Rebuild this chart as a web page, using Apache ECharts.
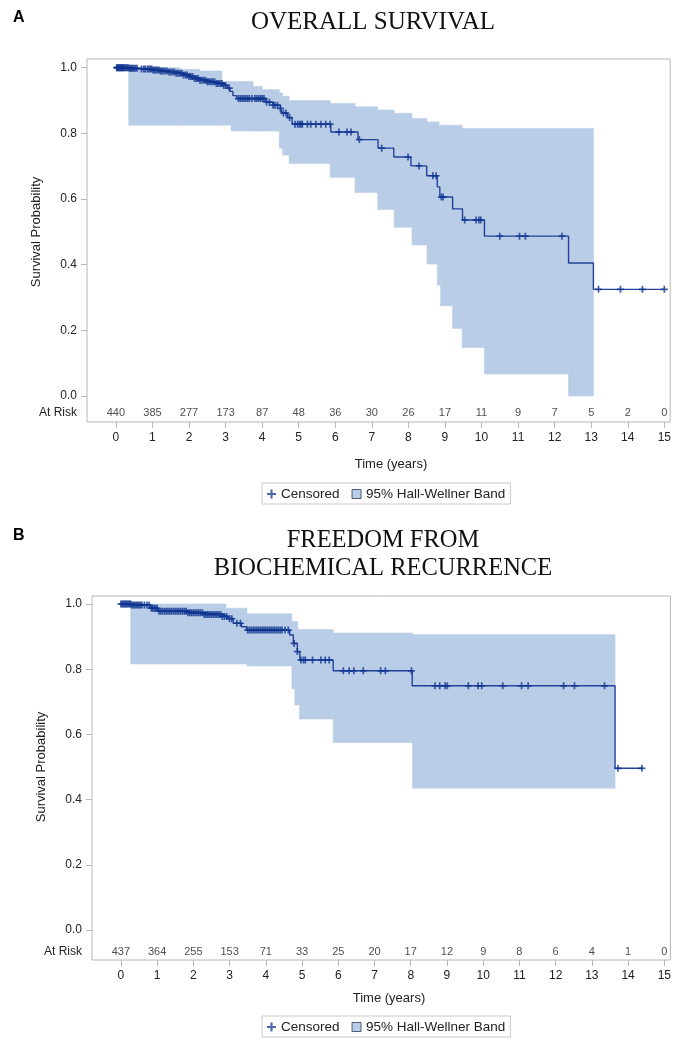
<!DOCTYPE html>
<html>
<head>
<meta charset="utf-8">
<script src="https://cdn.jsdelivr.net/npm/echarts@6/dist/echarts.min.js"></script>
<style>
  html, body { margin: 0; padding: 0; background: #fff; }
  #chart { width: 674px; height: 1040px; }
</style>
</head>
<body>
<div id="chart"></div>
<script>
// Kaplan-Meier curves, two panels, drawn with echarts
const xTicks = [0, 1, 2, 3, 4, 5, 6, 7, 8, 9, 10, 11, 12, 13, 14, 15];
const yTicks = [0, 0.2, 0.4, 0.6, 0.8, 1.0];

// panel A - overall survival
const atRiskA = [440, 385, 277, 173, 87, 48, 36, 30, 26, 17, 11, 9, 7, 5, 2, 0];
const timesA = [0, 0.35, 0.7, 1.0, 1.2, 1.45, 1.65, 1.85, 2.0, 2.15, 2.3, 2.5, 2.75, 2.95, 3.05, 3.12, 3.2, 3.3,
  4.1, 4.3, 4.5, 4.55, 4.7, 4.82, 5.88, 6.62, 7.17, 7.6, 8.07, 8.5, 8.79, 8.86, 9.21, 9.48, 10.08, 12.38, 13.06];
const survA = [1.0, 0.998, 0.996, 0.993, 0.99, 0.987, 0.983, 0.978, 0.973, 0.967, 0.962, 0.957, 0.952, 0.946, 0.938, 0.928, 0.915, 0.906,
  0.895, 0.886, 0.876, 0.862, 0.848, 0.828, 0.804, 0.781, 0.755, 0.728, 0.701, 0.671, 0.637, 0.606, 0.570, 0.536, 0.487, 0.405, 0.325];
const endA = 15.0;
const censorA = [0.02, 0.04, 0.06, 0.08, 0.1, 0.12, 0.14, 0.16, 0.18, 0.2, 0.22, 0.25, 0.28, 0.31, 0.34, 0.37, 0.4, 0.43, 0.46, 0.5, 0.54, 0.58,
  0.7, 0.76, 0.8, 0.86, 0.9, 0.94, 0.98, 1.02, 1.06, 1.1, 1.14, 1.18, 1.22, 1.26, 1.3, 1.35, 1.4, 1.45, 1.5, 1.55, 1.6, 1.65, 1.7,
  1.75, 1.8, 1.85, 1.9, 1.95, 2.0, 2.05, 2.1, 2.15, 2.2, 2.25, 2.3, 2.35, 2.4, 2.45, 2.5, 2.55, 2.6, 2.65, 2.7, 2.75, 2.8, 2.85,
  2.9, 2.95, 3.0, 3.1, 3.35, 3.4, 3.45, 3.5, 3.55, 3.6, 3.65, 3.72, 3.8, 3.85, 3.9, 3.95, 4.0, 4.05, 4.12, 4.2, 4.3, 4.35, 4.42,
  4.5, 4.58, 4.65, 4.75, 4.9, 4.97, 5.02, 5.06, 5.1, 5.24, 5.33, 5.47, 5.61, 5.74, 5.86, 6.1, 6.32, 6.43, 6.66, 7.27, 7.99, 8.29,
  8.67, 8.76, 8.9, 8.95, 9.54, 9.85, 9.93, 9.98, 10.5, 11.04, 11.2, 12.2, 13.2, 13.8, 14.4, 15.0];
const bandStartA = [0.35, 1.75, 2.3, 2.9, 3.15, 3.75, 4.0, 4.47, 4.56, 4.74, 5.86, 6.54, 7.16, 7.61, 8.1, 8.51, 8.79, 8.84, 8.88, 9.21, 9.47, 10.08, 12.38];
const bandLowA = [0.825, 0.825, 0.825, 0.825, 0.807, 0.807, 0.807, 0.755, 0.734, 0.708, 0.666, 0.620, 0.568, 0.514, 0.460, 0.402, 0.338, 0.338, 0.275, 0.206, 0.148, 0.067, 0.0];
const bandHighA = [1.0, 0.995, 0.99, 0.958, 0.958, 0.943, 0.933, 0.923, 0.913, 0.90, 0.891, 0.881, 0.871, 0.861, 0.845, 0.835, 0.835, 0.825, 0.825, 0.825, 0.815, 0.815, 0.815];
const bandEndA = 13.06;

// panel B - freedom from biochemical recurrence
const atRiskB = [437, 364, 255, 153, 71, 33, 25, 20, 17, 12, 9, 8, 6, 4, 1, 0];
const timesB = [0, 0.3, 0.82, 1.02, 1.84, 2.3, 2.8, 2.95, 3.1, 3.33, 3.47, 4.66, 4.76, 4.87, 4.94, 5.86, 8.04, 13.64];
const survB = [1.0, 0.997, 0.987, 0.978, 0.973, 0.968, 0.962, 0.955, 0.941, 0.930, 0.920, 0.905, 0.879, 0.854, 0.828, 0.795, 0.749, 0.496];
const endB = 14.42;
const censorB = [0.0, 0.03, 0.06, 0.09, 0.12, 0.15, 0.18, 0.21, 0.24, 0.27, 0.3, 0.34, 0.38, 0.42, 0.46, 0.5, 0.54, 0.58,
  0.65, 0.72, 0.78, 0.84, 0.88, 0.92, 0.96, 1.0, 1.05, 1.1, 1.15, 1.2, 1.25, 1.3, 1.35, 1.4, 1.45, 1.5, 1.55, 1.6, 1.65, 1.7,
  1.75, 1.8, 1.85, 1.9, 1.95, 2.0, 2.05, 2.1, 2.15, 2.2, 2.25, 2.3, 2.35, 2.4, 2.45, 2.5, 2.55, 2.6, 2.65, 2.7, 2.75, 2.8, 2.86,
  2.92, 3.0, 3.06, 3.2, 3.3, 3.5, 3.55, 3.6, 3.65, 3.7, 3.75, 3.8, 3.85, 3.9, 3.95, 4.0, 4.05, 4.1, 4.15, 4.2, 4.25, 4.3, 4.35,
  4.4, 4.45, 4.53, 4.62, 4.78, 4.87, 4.97, 5.04, 5.09, 5.29, 5.52, 5.64, 5.75, 6.14, 6.3, 6.43, 6.69, 7.17, 7.3, 8.02,
  8.67, 8.8, 8.95, 9.01, 9.59, 9.86, 9.96, 10.54, 11.06, 11.24, 12.22, 12.52, 13.35, 13.72, 14.38];
const bandStartB = [0.27, 2.9, 3.48, 4.72, 4.8, 4.88, 4.93, 5.86, 8.05];
const bandLowB = [0.816, 0.816, 0.81, 0.74, 0.69, 0.69, 0.647, 0.575, 0.435];
const bandHighB = [1.0, 0.987, 0.970, 0.946, 0.946, 0.922, 0.922, 0.911, 0.906];
const bandEndB = 13.64;

const lineColor = '#23419b';
const markColor = '#0f3590';
const bandColor = '#b9cde7';
const frameColor = '#b8b8b8';
const textColor = '#222';
const sans = 'Liberation Sans, Arial, sans-serif';
const serif = 'Liberation Serif, Times New Roman, serif';

const survAt = (times, surv, t) => {
    let s = surv[0];
    for (let i = 0; i < times.length; i++) {
        if (times[i] <= t) s = surv[i];
    }
    return s;
};

const stepData = (times, surv, end) => {
    const d = times.map((t, i) => [t, surv[i]]);
    d.push([end, surv[surv.length - 1]]);
    return d;
};

const bandData = (starts, lows, highs, end) =>
    starts.map((t, i) => [t, i < starts.length - 1 ? starts[i + 1] : end, lows[i], highs[i]]);

const plusSymbol = 'path://M3.8,0H6.2V3.8H10V6.2H6.2V10H3.8V6.2H0V3.8H3.8Z';

const renderBand = (params, api) => {
    const p0 = api.coord([api.value(0), api.value(3)]);
    const p1 = api.coord([api.value(1), api.value(2)]);
    return {
        type: 'rect',
        shape: { x: p0[0], y: p0[1], width: p1[0] - p0[0], height: p1[1] - p0[1] },
        style: { fill: bandColor, stroke: bandColor, lineWidth: 0.6 }
    };
};

const makeAxes = (grid, xMin, xMax, yMin, yMax, atRiskY) => {
    const xAxis = {
        type: 'value', gridIndex: grid, min: xMin, max: xMax, position: 'bottom',
        axisLine: { show: false, onZero: false },
        splitLine: { show: false },
        axisTick: { show: true, customValues: xTicks, length: 6, lineStyle: { color: frameColor } },
        axisLabel: { customValues: xTicks, margin: 10, color: textColor, fontSize: 12, fontFamily: sans }
    };
    const yAxis = {
        type: 'value', gridIndex: grid, min: yMin, max: yMax, position: 'left',
        axisLine: { show: false, onZero: false },
        splitLine: { show: false },
        axisTick: { show: true, customValues: yTicks, length: 6, lineStyle: { color: frameColor } },
        axisLabel: {
            customValues: [atRiskY].concat(yTicks), margin: 10, color: textColor, fontSize: 12, fontFamily: sans,
            formatter: v => (v < 0 ? 'At Risk' : v.toFixed(1))
        }
    };
    return [xAxis, yAxis];
};

const makeSeries = (idx, times, surv, end, censor, bStart, bLow, bHigh, bEnd, atRisk, atRiskY) => [
    {
        name: '95% Hall-Wellner Band', type: 'custom', xAxisIndex: idx, yAxisIndex: idx,
        renderItem: renderBand, itemStyle: { color: bandColor }, silent: true,
        data: bandData(bStart, bLow, bHigh, bEnd), z: 1
    },
    {
        name: 'Survival', type: 'line', step: 'end', xAxisIndex: idx, yAxisIndex: idx,
        showSymbol: false, symbol: 'none', silent: true,
        lineStyle: { color: lineColor, width: 1.4 },
        data: stepData(times, surv, end), z: 3
    },
    {
        name: 'Censored', type: 'scatter', xAxisIndex: idx, yAxisIndex: idx,
        symbol: plusSymbol, symbolSize: 7, silent: true,
        itemStyle: { color: markColor },
        data: censor.map(t => [t, survAt(times, surv, t)]), z: 4
    },
    {
        name: 'atrisk', type: 'scatter', xAxisIndex: idx, yAxisIndex: idx,
        symbolSize: 1, silent: true, itemStyle: { color: 'rgba(0,0,0,0)' },
        label: { show: true, position: 'inside', formatter: p => p.value[2], color: textColor, fontSize: 11, fontFamily: sans },
        data: xTicks.map((t, i) => [t, atRiskY, atRisk[i]]), z: 5
    }
];

const legendBox = (top) => ({
    left: 262, top: top, orient: 'horizontal',
    borderColor: '#c8c8c8', borderWidth: 1, padding: [4, 5, 3, 5],
    itemWidth: 9, itemHeight: 9, itemGap: 12,
    textStyle: { color: textColor, fontSize: 13.5, fontFamily: sans },
    selectedMode: false,
    data: [
        { name: 'Censored', icon: plusSymbol, itemStyle: { color: lineColor } },
        { name: '95% Hall-Wellner Band', icon: 'rect', itemStyle: { color: bandColor, borderColor: '#4d5a78', borderWidth: 1 } }
    ]
});

const axesA = makeAxes(0, -0.79, 15.16, -0.079, 1.0265, -0.052);
const axesB = makeAxes(1, -0.798, 15.167, -0.092, 1.0245, -0.0675);

const chart = echarts.init(document.getElementById('chart'));
const option = {
    animation: false,
    backgroundColor: '#fff',
    grid: [
        { left: 87, width: 585, top: 59, height: 363, show: true, borderColor: frameColor, borderWidth: 1, backgroundColor: 'transparent' },
        { left: 92, width: 580, top: 596, height: 364, show: true, borderColor: frameColor, borderWidth: 1, backgroundColor: 'transparent' }
    ],
    xAxis: [axesA[0], axesB[0]],
    yAxis: [axesA[1], axesB[1]],
    legend: [legendBox(483), legendBox(1016)],
    series: makeSeries(0, timesA, survA, endA, censorA, bandStartA, bandLowA, bandHighA, bandEndA, atRiskA, -0.052)
        .concat(makeSeries(1, timesB, survB, endB, censorB, bandStartB, bandLowB, bandHighB, bandEndB, atRiskB, -0.0675)),
    graphic: [
        { type: 'text', left: 13, top: 10, style: { text: 'A', font: 'bold 16px ' + sans, fill: '#000' } },
        { type: 'text', left: 13, top: 528, style: { text: 'B', font: 'bold 16px ' + sans, fill: '#000' } },
        { type: 'text', x: 373, y: 22, style: { text: 'OVERALL SURVIVAL', font: '25px ' + serif, fill: '#111', textAlign: 'center', textVerticalAlign: 'middle' } },
        { type: 'text', x: 383, y: 541, style: { text: 'FREEDOM FROM', font: '24.5px ' + serif, fill: '#111', textAlign: 'center', textVerticalAlign: 'middle' } },
        { type: 'text', x: 383, y: 569, style: { text: 'BIOCHEMICAL RECURRENCE', font: '24.5px ' + serif, fill: '#111', textAlign: 'center', textVerticalAlign: 'middle' } },
        { type: 'text', x: 36, y: 232, rotation: Math.PI / 2, style: { text: 'Survival Probability', font: '13px ' + sans, fill: textColor, textAlign: 'center', textVerticalAlign: 'middle' } },
        { type: 'text', x: 41, y: 767, rotation: Math.PI / 2, style: { text: 'Survival Probability', font: '13px ' + sans, fill: textColor, textAlign: 'center', textVerticalAlign: 'middle' } },
        { type: 'text', x: 391, y: 464, style: { text: 'Time (years)', font: '13px ' + sans, fill: textColor, textAlign: 'center', textVerticalAlign: 'middle' } },
        { type: 'text', x: 389, y: 998, style: { text: 'Time (years)', font: '13px ' + sans, fill: textColor, textAlign: 'center', textVerticalAlign: 'middle' } }
    ]
};
option && chart.setOption(option);
window.onresize = () => {
    chart.resize();
};
</script>
</body>
</html>
